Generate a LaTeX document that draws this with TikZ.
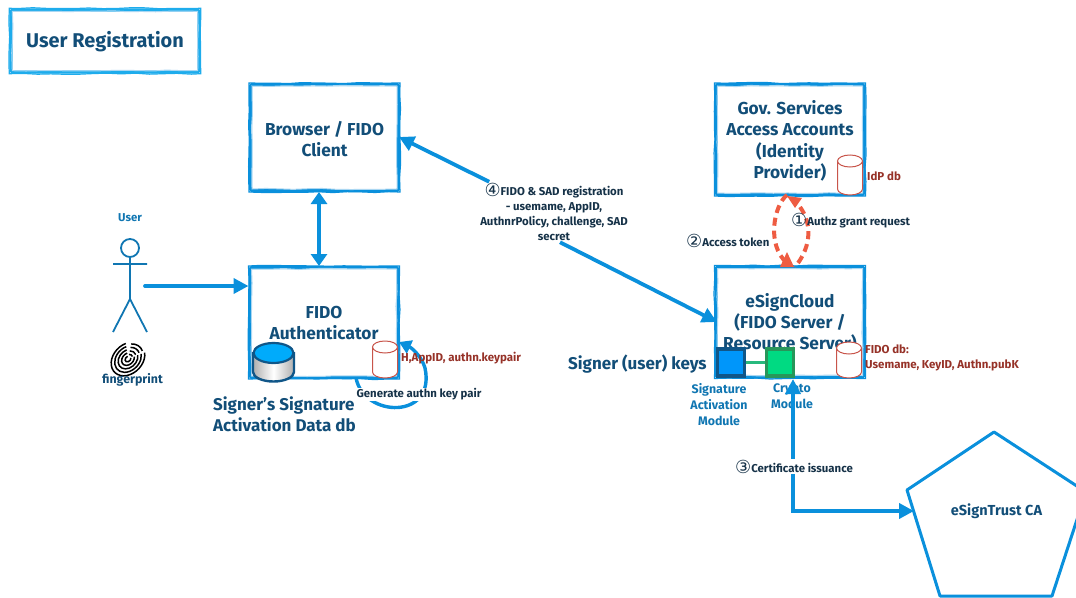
\documentclass[tikz,border=0pt]{standalone}
\usepackage{fontspec}
\setmainfont{Fira Sans}
\newfontfamily\circfont{DejaVu Sans}
\usetikzlibrary{arrows.meta,positioning,calc,decorations.pathmorphing}
\definecolor{lineblue}{RGB}{10,144,220}
\definecolor{titleblue}{RGB}{30,172,236}
\definecolor{paleblue}{RGB}{170,215,242}
\definecolor{navy}{RGB}{18,78,120}
\definecolor{labelblue}{RGB}{16,118,178}
\definecolor{darkred}{RGB}{150,50,40}
\definecolor{cylred}{RGB}{200,85,75}
\definecolor{dashred}{RGB}{238,92,66}
\definecolor{inktext}{RGB}{22,50,72}
\definecolor{samfill}{RGB}{0,150,250}
\definecolor{samedge}{RGB}{16,86,136}
\definecolor{cryptofill}{RGB}{0,218,130}
\definecolor{cryptoedge}{RGB}{40,150,90}
\definecolor{linkgreen}{RGB}{40,185,125}
\tikzset{
  x=1pt,y=-1pt,
  box/.style={draw=lineblue,line width=3pt,rounded corners=1.5pt,fill=white,align=center,
    font=\fontsize{17.3}{21.3}\selectfont\bfseries,text=navy,inner sep=0pt},
  inner/.style={draw=paleblue,line width=1pt,decorate,decoration={random steps,segment length=14pt,amplitude=.6pt}},
  rough/.style={line width=1.2pt,decorate,decoration={random steps,segment length=14pt,amplitude=.6pt}},
  flow/.style={draw=lineblue,line width=3.8pt,-{Triangle[length=15pt,width=15pt]}},
  flowboth/.style={draw=lineblue,line width=3.8pt,{Triangle[length=12pt,width=16pt]}-{Triangle[length=12pt,width=16pt]}},
  note/.style={font=\fontsize{11.4}{15.2}\selectfont\bfseries,text=inktext,align=center,inner sep=1pt},
  rednote/.style={font=\fontsize{11.5}{15}\selectfont\bfseries,text=darkred,align=left,inner sep=0pt,anchor=west},
  bluenote/.style={font=\fontsize{12.4}{16}\selectfont\bfseries,text=labelblue,align=center,inner sep=0pt},
  bignote/.style={font=\fontsize{17}{21}\selectfont\bfseries,text=navy,align=left,inner sep=0pt,anchor=west},
  actor/.style={draw=labelblue,line width=1.8pt},
  cyl/.style={draw=cylred,line width=1pt,fill=white},
  redarc/.style={draw=dashred,line width=4pt,dash pattern=on 8pt off 5pt},
  redtip/.style={fill=dashred,draw=none},
  print/.style={draw=black,line width=1.5pt},
}
\newcommand{\circnum}[1]{{\circfont\fontsize{18}{15}\selectfont\mdseries\raisebox{-1pt}{#1}}}
\newcommand{\boxtext}[2]{\smash{\raisebox{#1}{\begin{tabular}{@{}c@{}}#2\end{tabular}}}}
\newcommand{\dbcyl}[4]{%
  \draw[cyl] (#1-#3,#2) -- (#1-#3,#2+#4) arc[start angle=180,end angle=0,x radius=#3,y radius=6] -- (#1+#3,#2) ;
  \draw[cyl] (#1,#2) ellipse (#3 and 6);
}
\begin{document}
\begin{tikzpicture}
\useasboundingbox (0,0) rectangle (1076,597);
% title
\node[box,draw=titleblue,line width=3.4pt,minimum width=188pt,minimum height=62pt,font=\fontsize{19.9}{24}\selectfont\bfseries] (title) at (105,41) {\boxtext{-7pt}{User Registration}};
\draw[rough,draw=titleblue] (title.north west) rectangle (title.south east);
\draw[inner] ($(title.north west)+(3,3)$) rectangle ($(title.south east)+(-3,-3)$);
% main boxes
\node[box,minimum width=148pt,minimum height=106pt] (browser) at (324.5,137.5) {\boxtext{-8.5pt}{Browser / FIDO\\Client}};
\node[box,minimum width=148pt,minimum height=110pt] (gov) at (790,139.5) {\boxtext{-7pt}{Gov. Services\\Access Accounts\\(Identity\\Provider)}};
\node[box,minimum width=148pt,minimum height=110pt] (auth) at (324,322.5) {\boxtext{-6.5pt}{FIDO\\Authenticator}};
\node[box,minimum width=148pt,minimum height=110pt] (cloud) at (790,322) {\boxtext{-6.5pt}{eSignCloud\\(FIDO Server /\\Resource Server)}};
\foreach \n in {browser,gov,auth,cloud}{
  \draw[rough,draw=lineblue] (\n.north west) rectangle (\n.south east);
  \draw[inner] ($(\n.north west)+(3,3)$) rectangle ($(\n.south east)+(-3,-3)$);
}
% pentagon
\coordinate (pa) at (994,432);
\coordinate (pb) at (1086,492);
\coordinate (pc) at (1052,596);
\coordinate (pd) at (940,596);
\coordinate (pe) at (907,490);
\draw[draw=lineblue,line width=3pt,line join=round,fill=white] (pa)--(pb)--(pc)--(pd)--(pe)--cycle;
\node[font=\fontsize{14.5}{16}\selectfont\bfseries,text=navy,inner sep=0pt] (ca) at (996.5,511) {eSignTrust CA};
\coordinate (caport) at (914,511);
% actor
\node[circle,actor,minimum size=18pt,inner sep=0pt] (head) at (130,248) {};
\coordinate (neck) at (head.south);
\coordinate (hip) at (130,299);
\coordinate (armL) at (113,264);
\coordinate (armR) at (147,264);
\coordinate (footL) at (113,332);
\coordinate (footR) at (147,332);
\draw[actor] (neck)--(hip) (armL)--(armR) (footL)--(hip)--(footR);
\node[font=\fontsize{11.4}{12}\selectfont\bfseries,text=labelblue,inner sep=0pt] (userlabel) at (130,218) {User};
% fingerprint
\begin{scope}[shift={(128,359)},rotate=45]
  \foreach \r in {2.5,5.5,8.5,11.5,14.5}{
    \draw[print] ({1.3*\r*cos(30)},{\r*sin(30)}) arc[start angle=30,end angle=300,x radius=1.3*\r,y radius=\r];
  }
  \foreach \r in {4,7,10,13}{
    \draw[print] ({1.3*\r*cos(-40)},{\r*sin(-40)}) arc[start angle=-40,end angle=20,x radius=1.3*\r,y radius=\r];
  }
\end{scope}
\node[font=\fontsize{12.4}{13}\selectfont\bfseries,text=navy,inner sep=0pt] (fingerlabel) at (132.5,380) {fingerprint};
% arrows on left
\coordinate (userport) at (145,286);
\draw[flowboth] (browser.south -| 319,0) -- (auth.north -| 319,0);
\draw[flow,line cap=round] (userport) -- (auth.west |- userport);
% self arrow
\coordinate (selfa) at (356,378);
\coordinate (selfb) at (399,342);
\draw[draw=lineblue,line width=3.4pt,-{Triangle[length=12pt,width=14pt]}] (selfa) .. controls (364,418) and (436,420) .. (425,368) .. controls (422,357) and (412,348) .. (selfb);
% SAD db
\shade[left color=black!30,right color=black!30,middle color=white] (254,352) -- (254,372) arc[start angle=180,end angle=0,x radius=19.5,y radius=9] -- (293,352) -- cycle;
\draw[draw=samedge,line width=2.4pt] (253,352)--(253,372) arc[start angle=180,end angle=0,x radius=20.5,y radius=9.5]--(294,352);
\draw[fill=samfill!80!cyan,draw=samedge,line width=2.2pt] (273.5,353) ellipse (20 and 10);
% small cylinders
\dbcyl{850}{161}{12.5}{28}
\dbcyl{385}{347}{12.5}{25}
\dbcyl{849}{348}{12.5}{24}
% module boxes
\node[draw=samedge,fill=samfill,line width=3.2pt,minimum size=27pt,inner sep=0pt] (sam) at (731,362.5) {};
\node[draw=cryptoedge,fill=cryptofill,line width=3.2pt,minimum size=27pt,inner sep=0pt] (crypto) at (780,362.5) {};
\draw[draw=linkgreen,line width=3pt] (sam)--(crypto);
% module labels
\node[bluenote] (samlabel) at (719,405) {Signature\\Activation\\Module};
\node[bluenote] (cryptolabel) at (792,396) {Crypto\\Module};
\node[bignote] (keys) at (568,364.5) {Signer (user) keys};
\node[bignote] (sadlabel) at (213,414.5) {Signer’s Signature\\Activation Data db};
% red notes
\node[rednote] (idplabel) at (867,176) {IdP db};
\node[rednote] (authlabel) at (401,358.5) {H,AppID, authn.keypair};
\node[rednote] (fidolabel) at (865,358) {FIDO db:\\Usemame, KeyID, Authn.pubK};
% long arrows
\coordinate (cloudin) at (717,322);
\coordinate (browserin) at (399,137);
\node[note,fill=white] (reg) at (554,212) {\circnum{④}FIDO \& SAD registration\\- usemame, AppID,\\AuthnrPolicy, challenge, SAD\\secret};
\draw[flow] (reg.155) -- (browserin);
\draw[flow] (reg.south) ++(6,0) coordinate (regout) (regout) -- (cloudin);
% certificate line
\coordinate (cloudup) at (793,379);
\coordinate (corner) at (793,511);
\draw[flow] (corner) -- (cloudup);
\draw[flow] (cloudup |- 0,470) -- (corner) -- (caport);
\node[note,fill=white,anchor=west] (certlabel) at (734,466.5) {\circnum{③}Certificate issuance};
% red loop
\coordinate (top) at (787,195);
\coordinate (bot) at (795,267);
\draw[redarc] (top) .. controls (774,205) and (766,245) .. (787,263);
\draw[redarc] (800,207) .. controls (811,222) and (813,245) .. (bot);
\fill[redtip] (787,196) -- (802,198) -- (795,208) -- cycle;
\fill[redtip] (787,252) -- (794,267) -- (780,267) -- cycle;
\node[note,anchor=west] (l1) at (790,221) {\circnum{①}Authz grant request};
\node[note,anchor=west] (l2) at (685,241) {\circnum{②}Access token};
% Generate label
\node[note,fill=white,inner sep=0.5pt] (genlabel) at (419,394.5) {Generate authn key pair};
\end{tikzpicture}
\end{document}
